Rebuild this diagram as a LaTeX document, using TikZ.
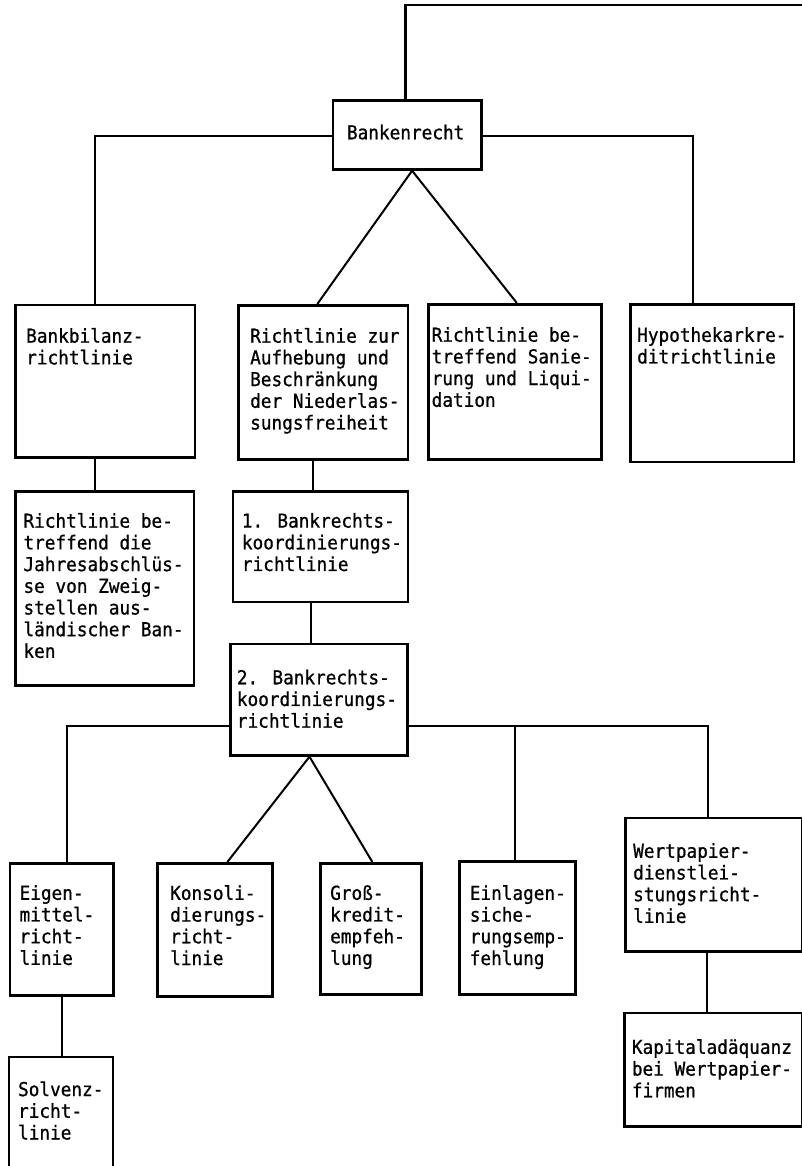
\documentclass[tikz,border=0pt]{standalone}
\usepackage{fontspec}
\newfontfamily\tw[FakeStretch=0.923,FakeBold=0.8]{DejaVu Sans Mono}
\usetikzlibrary{calc}
\begin{document}
\begin{tikzpicture}[x=1pt,y=-1pt,
  box/.style={draw, line width=2.7pt, inner sep=0pt, rectangle, anchor=north west},
  conn/.style={line width=2pt},
  txt/.style={anchor=north west, inner sep=0pt, align=left, font=\tw\fontsize{19.2pt}{21.7pt}\selectfont}]
\useasboundingbox (0,0) rectangle (802,1166);
\clip (0,0) rectangle (802,1166);
% boxes
\node[box, minimum width=148.5pt, minimum height=69pt] (bank) at (331.5,99) {};
\node[box, minimum width=179.5pt, minimum height=152.5pt] (bilanz) at (14,303.5) {};
\node[box, minimum width=169.5pt, minimum height=154pt] (aufheb) at (237,304) {};
\node[box, minimum width=173pt, minimum height=155pt] (sanier) at (427,303) {};
\node[box, minimum width=163.5pt, minimum height=157.5pt] (hypo) at (629,303) {};
\node[box, minimum width=178.5pt, minimum height=194pt] (jahres) at (14,490) {};
\node[box, minimum width=174.8pt, minimum height=110.7pt] (bank1) at (231.7,490) {};
\node[box, minimum width=176.7pt, minimum height=111.3pt] (bank2) at (229.3,642.7) {};
\node[box, minimum width=103.5pt, minimum height=132pt] (eigen) at (8.5,862) {};
\node[box, minimum width=115pt, minimum height=133pt] (konsoli) at (156,862) {};
\node[box, minimum width=101pt, minimum height=131pt] (gross) at (319,862) {};
\node[box, minimum width=116pt, minimum height=133pt] (einlagen) at (458,860) {};
\node[box, minimum width=176.5pt, minimum height=133.3pt] (wert) at (624,816.7) {};
\node[box, minimum width=177.5pt, minimum height=113.3pt] (kapital) at (623,1011.7) {};
\node[box, minimum width=104pt, minimum height=130pt] (solvenz) at (7.5,1055.7) {};
% texts
\node[txt] (tbank) at (346.8,124.5) {Bankenrecht};
\node[txt] (tbilanz) at (26,327.8) {Bankbilanz-\\richtlinie};
\node[txt] (taufheb) at (250,327.8) {Richtlinie zur\\Aufhebung und\\Beschränkung\\der Niederlas-\\sungsfreiheit};
\node[txt] (tsanier) at (431.5,326.8) {Richtlinie be-\\treffend Sanie-\\rung und Liqui-\\dation};
\node[txt] (thypo) at (637,327) {Hypothekarkre-\\ditrichtlinie};
\node[txt] (tjahres) at (23.3,512.8) {Richtlinie be-\\treffend die\\Jahresabschlüs-\\se von Zweig-\\stellen aus-\\ländischer Ban-\\ken};
\node[txt] (tbank1) at (241.7,512.8) {1. Bankrechts-\\koordinierungs-\\richtlinie};
\node[txt] (tbank2) at (236.7,669.5) {2. Bankrechts-\\koordinierungs-\\richtlinie};
\node[txt] (teigen) at (19.4,885) {Eigen-\\mittel-\\richt-\\linie};
\node[txt] (tkonsoli) at (170,885) {Konsoli-\\dierungs-\\richt-\\linie};
\node[txt] (tgross) at (330,885) {Groß-\\kredit-\\empfeh-\\lung};
\node[txt] (teinlagen) at (469.6,885) {Einlagen-\\siche-\\rungsemp-\\fehlung};
\node[txt] (twert) at (633,843) {Wertpapier-\\dienstlei-\\stungsricht-\\linie};
\node[txt] (tkapital) at (631.7,1039) {Kapitaladäquanz\\bei Wertpapier-\\firmen};
\node[txt] (tsolvenz) at (17.9,1081.2) {Solvenz-\\richt-\\linie};
% connectors
\coordinate (topR) at (815,5);
\draw[conn, line width=2.7pt] ([xshift=-1.7pt]bank.north) |- (topR);
\draw[conn] ([yshift=-1.5pt]bank.west) -| ([xshift=-10.25pt]bilanz.north);
\draw[conn] ([yshift=-1.5pt]bank.east) -| ([xshift=-18.75pt]hypo.north);
\coordinate (bks) at ([xshift=5pt]bank.south);
\draw[conn] (bks) -- ([xshift=-5.75pt]aufheb.north);
\draw[conn] (bks) -- ([xshift=2pt]sanier.north);
\coordinate (bilS) at ([xshift=-10.5pt]bilanz.south);
\draw[conn] (bilS) -- (bilS |- jahres.north);
\coordinate (aufS) at ([xshift=-10pt]aufheb.south);
\draw[conn] (aufS) -- (aufS |- bank1.north);
\coordinate (b1S) at ([xshift=-9.1pt]bank1.south);
\draw[conn] (b1S) -- (b1S |- bank2.north);
\coordinate (hl) at ([yshift=-26.6pt]bank2.east);
\coordinate (hlw) at ([yshift=-26.6pt]bank2.west);
\draw[conn] (hlw) -| ([xshift=5.5pt]eigen.north);
\draw[conn] (hl) -| ([xshift=-5.5pt]wert.north);
\coordinate (einT) at ([xshift=-2pt]einlagen.north);
\draw[conn] (einT) -- (einT |- hl);
\coordinate (b2s) at ([xshift=-9.5pt]bank2.south);
\draw[conn] (b2s) -- ([xshift=12.5pt]konsoli.north);
\draw[conn] (b2s) -- ([xshift=1.5pt]gross.north);
\coordinate (eiS) at ([xshift=0.75pt]eigen.south);
\draw[conn] (eiS) -- (eiS |- solvenz.north);
\coordinate (weS) at ([xshift=-6.75pt]wert.south);
\draw[conn] (weS) -- (weS |- kapital.north);
\end{tikzpicture}
\end{document}
